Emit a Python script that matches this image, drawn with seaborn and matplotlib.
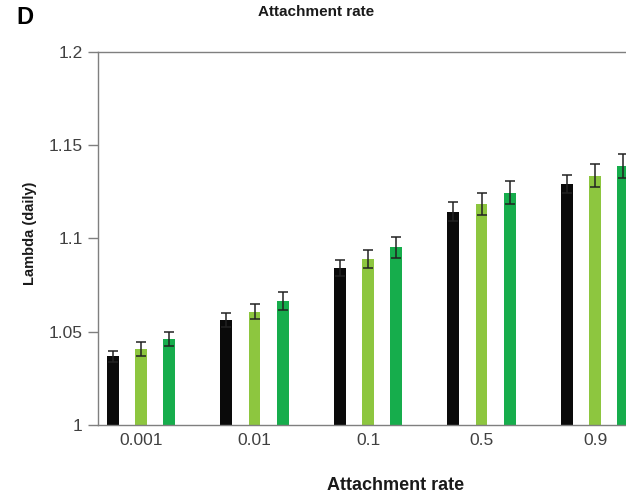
import matplotlib
matplotlib.use("Agg")
import matplotlib.pyplot as plt
import numpy as np
import pandas as pd
import seaborn as sns

# Attachment-rate levels on the x axis
rates = ["0.001", "0.01", "0.1", "0.5", "0.9"]
# Three scenarios, shown as black / light green / green bars
scenarios = ["S1", "S2", "S3"]

lambda_s1 = [1.0368, 1.0563, 1.0844, 1.1144, 1.1292]
lambda_s2 = [1.0408, 1.0608, 1.0890, 1.1185, 1.1337]
lambda_s3 = [1.0461, 1.0665, 1.0953, 1.1246, 1.1390]

err_s1 = [0.0030, 0.0036, 0.0043, 0.0052, 0.0050]
err_s2 = [0.0037, 0.0040, 0.0050, 0.0060, 0.0061]
err_s3 = [0.0036, 0.0050, 0.0055, 0.0063, 0.0064]

colors = ["#0a0a0a", "#8dc63f", "#16ad4c"]

yticks = [1.0, 1.05, 1.1, 1.15, 1.2]
ytick_labels = ["1", "1.05", "1.1", "1.15", "1.2"]

df = pd.DataFrame({
    "rate": rates * 3,
    "scenario": np.repeat(scenarios, len(rates)),
    "value": lambda_s1 + lambda_s2 + lambda_s3,
    "err": err_s1 + err_s2 + err_s3,
})

sns.set_style("white")
plt.rcParams["font.family"] = ["Liberation Sans", "DejaVu Sans"]

fig = plt.figure(figsize=(6.26, 4.95), dpi=100)
ax = fig.add_axes([98 / 626, 1 - 425 / 495, 1 - 98 / 626, (425 - 52) / 495])

sns.barplot(data=df, x="rate", y="value", hue="scenario", order=rates,
            hue_order=scenarios, palette=colors, width=0.75, gap=0.58,
            errorbar=None, legend=False, ax=ax, bottom=0,
            saturation=1, linewidth=0)

# error bars placed on the drawn bars
for container, sc in zip(ax.containers, scenarios):
    sub = df[df["scenario"] == sc].set_index("rate").loc[rates]
    xs = [p.get_x() + p.get_width() / 2 for p in container.patches]
    ax.errorbar(xs, sub["value"].values, yerr=sub["err"].values, fmt="none",
                ecolor="#222222", elinewidth=1.1, capsize=3.4, capthick=1.1,
                zorder=5)

ax.set_ylim(1.0, 1.2)
ax.set_xlim(-0.379, 4.273)
ax.set_yticks(yticks)
ax.set_yticklabels(ytick_labels)

for s in ["left", "bottom", "top"]:
    ax.spines[s].set_visible(True)
    ax.spines[s].set_color("#7f7f7f")
    ax.spines[s].set_linewidth(1.0)
ax.spines["right"].set_visible(False)

ax.tick_params(axis="y", which="major", left=True, length=7, width=1.0,
               color="#7f7f7f", pad=4, labelsize=12.5, labelcolor="#404040")
ax.tick_params(axis="x", which="major", bottom=False, length=0, pad=6,
               labelsize=12.5, labelcolor="#404040")

ax.set_ylabel("Lambda (daily)", fontsize=10.5, fontweight="bold",
              color="#1a1a1a", va="center")
ax.yaxis.set_label_coords((30 - 98) / 528, (425 - 233) / 373)
ax.set_xlabel("Attachment rate", fontsize=13, fontweight="bold",
              color="#1a1a1a", va="center")
ax.xaxis.set_label_coords((396 - 98) / 528, -(486 - 425) / 373)

fig.text(316 / 626, 1 - 12.5 / 495, "Attachment rate", ha="center",
         va="center", fontsize=11, fontweight="bold", color="#1a1a1a")
fig.text(25 / 626, 1 - 18 / 495, "D", ha="center", va="center",
         fontsize=17, fontweight="bold", color="#000000")

fig.savefig("out.png", dpi=100)
